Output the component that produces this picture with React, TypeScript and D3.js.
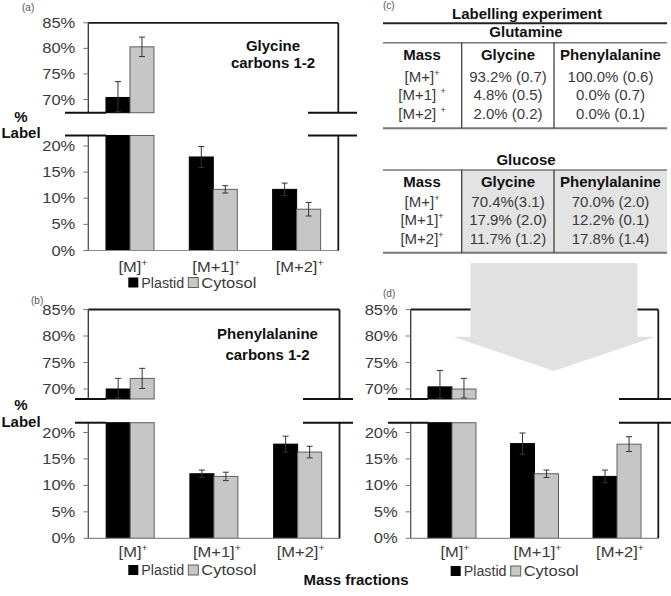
import React from 'react';
import * as d3 from 'd3';

// ---------- data ----------
const categories = ['[M]', '[M+1]', '[M+2]'];
const seriesNames = ['Plastid', 'Cytosol'];

const glyPlastid = [70.4, 17.9, 11.7];
const glyPlastidErr = [3.1, 2.0, 1.2];
const glyCytosol = [80.3, 11.7, 7.9];
const glyCytosolErr = [1.9, 0.7, 1.3];

const phePlastid = [70.0, 12.2, 17.8];
const phePlastidErr = [2.0, 0.7, 1.5];
const pheCytosol = [72.0, 11.7, 16.3];
const pheCytosolErr = [1.9, 0.8, 1.1];

const cmpPlastid = [70.4, 17.9, 11.7];
const cmpPlastidErr = [3.1, 2.0, 1.2];
const cmpCytosol = [70.0, 12.2, 17.8];
const cmpCytosolErr = [2.0, 0.7, 1.4];

const upperTicks = [70, 75, 80, 85];
const lowerTicks = [0, 5, 10, 15, 20];

const tableCols = ['Mass', 'Glycine', 'Phenylalanine'];
const glutMass = ['[M+]', '[M+1] ', '[M+2] '];
const glutGly = ['93.2% (0.7)', '4.8% (0.5)', '2.0% (0.2)'];
const glutPhe = ['100.0% (0.6)', '0.0% (0.7)', '0.0% (0.1)'];
const glucMass = ['[M+]', '[M+1]', '[M+2]'];
const glucGly = ['70.4%(3.1)', '17.9% (2.0)', '11.7% (1.2)'];
const glucPhe = ['70.0% (2.0)', '12.2% (0.1)', '17.8% (1.4)'];

const FONT = "'Liberation Sans', Arial, Helvetica, sans-serif";
const TXT = '#3a3a3a';
const GRAY_FILL = '#c6c6c6';
const GRAY_STROKE = '#5e5e5e';
const SX = 1.18; // horizontal stretch of chart text
const FS = 14;

type PanelCfg = {
  tag: string; tagX: number; tagY: number;
  left: number; right: number; top: number; y70: number;
  upperBreak: number; lowerBreak: number; y20: number; base: number;
  breakLeftStart: number; breakRightStart: number; breakRightEnd: number;
  title?: string[]; titleX?: number; titleY?: number[];
  yLabel?: boolean; labelY?: number[];
  legendY: number; xLabelY: number;
  plastid: number[]; plastidErr: number[]; cytosol: number[]; cytosolErr: number[];
};

function SText({ x, y, anchor = 'start', sx = SX, children }: { x: number; y: number; anchor?: string; sx?: number; children: React.ReactNode }) {
  return (
    <text transform={`translate(${x},${y}) scale(${sx},1)`} textAnchor={anchor} fontSize={FS} fill={TXT} fontFamily={FONT}>
      {children}
    </text>
  );
}

function Panel({ c }: { c: PanelCfg }) {
  const yU = d3.scaleLinear().domain([70, 85]).range([c.y70, c.top]);
  const yL = d3.scaleLinear().domain([0, 20]).range([c.base, c.y20]);
  const upperMin = yU.invert(c.upperBreak);
  const lowerMax = yL.invert(c.lowerBreak);
  const x0 = d3.scaleBand().domain(categories).range([c.left, c.right]);
  const x1 = d3.scaleBand().domain(seriesNames).range([-24, 24]);
  const cx = (cat: string) => (x0(cat) as number) + x0.bandwidth() / 2;
  const yAny = (v: number) => (v >= upperMin ? yU(v) : yL(v));

  const series = [
    { name: 'Plastid', vals: c.plastid, errs: c.plastidErr, fill: '#000', stroke: '#000' },
    { name: 'Cytosol', vals: c.cytosol, errs: c.cytosolErr, fill: GRAY_FILL, stroke: GRAY_STROKE },
  ];
  const firstBarX = cx(categories[0]) + (x1('Plastid') as number);

  return (
    <g fontFamily={FONT}>
      <text x={c.tagX} y={c.tagY} fontSize={10} fill="#555">{c.tag}</text>
      {/* bars */}
      {series.map((s) =>
        categories.map((cat, i) => {
          const v = s.vals[i];
          const bx = cx(cat) + (x1(s.name) as number);
          const bw = x1.bandwidth();
          const lowTop = v > lowerMax ? c.lowerBreak : yL(v);
          return (
            <g key={s.name + cat}>
              <rect x={bx} y={lowTop} width={bw} height={c.base - lowTop} fill={s.fill} stroke={s.stroke} strokeWidth={1} />
              {v > upperMin && (
                <rect x={bx} y={yU(v)} width={bw} height={c.upperBreak - yU(v)} fill={s.fill} stroke={s.stroke} strokeWidth={1} />
              )}
            </g>
          );
        })
      )}
      {/* error bars */}
      {series.map((s) =>
        categories.map((cat, i) => {
          const v = s.vals[i];
          const e = s.errs[i];
          const ex = cx(cat) + (x1(s.name) as number) + x1.bandwidth() / 2;
          const yHi = yAny(v + e);
          const yLo = v >= upperMin ? Math.min(yU(v - e), c.upperBreak - 1) : yL(v - e);
          return (
            <g key={'e' + s.name + cat} stroke="#333" strokeWidth={1}>
              <line x1={ex} x2={ex} y1={yHi} y2={yLo} />
              <line x1={ex - 3} x2={ex + 3} y1={yHi} y2={yHi} />
              <line x1={ex - 3} x2={ex + 3} y1={yLo} y2={yLo} />
            </g>
          );
        })
      )}
      {/* axes and frame */}
      <line x1={c.left} x2={c.right} y1={c.base} y2={c.base} stroke="#8a8a8a" strokeWidth={1.2} />
      <line x1={c.left} x2={c.left} y1={c.top} y2={c.upperBreak} stroke="#333" strokeWidth={1.3} />
      <line x1={c.left} x2={c.left} y1={c.lowerBreak} y2={c.base} stroke="#555" strokeWidth={1.3} />
      <line x1={c.left} x2={c.right} y1={c.top} y2={c.top} stroke="#1a1a1a" strokeWidth={1.8} />
      <line x1={c.right} x2={c.right} y1={c.top} y2={c.upperBreak} stroke="#1a1a1a" strokeWidth={1.8} />
      <line x1={c.right} x2={c.right} y1={c.lowerBreak} y2={c.base} stroke="#1a1a1a" strokeWidth={1.8} />
      {/* break lines */}
      {[c.upperBreak, c.lowerBreak].map((y, k) => (
        <g key={'b' + k} stroke="#111" strokeWidth={2}>
          <line x1={c.breakLeftStart} x2={firstBarX} y1={y} y2={y} />
          <line x1={c.breakRightStart} x2={c.breakRightEnd} y1={y} y2={y} />
        </g>
      ))}
      {/* ticks */}
      {upperTicks.map((t) => (
        <g key={'u' + t}>
          <line x1={c.left - 5} x2={c.left} y1={yU(t)} y2={yU(t)} stroke="#777" strokeWidth={1} />
          <SText x={c.left - 13} y={yU(t) + 5} anchor="end">{t}%</SText>
        </g>
      ))}
      {lowerTicks.map((t) => (
        <g key={'l' + t}>
          <line x1={c.left - 5} x2={c.left} y1={yL(t)} y2={yL(t)} stroke="#777" strokeWidth={1} />
          <SText x={c.left - 13} y={yL(t) + 5} anchor="end">{t}%</SText>
        </g>
      ))}
      {/* x labels */}
      {categories.map((cat) => (
        <SText key={'x' + cat} x={cx(cat) + 3} y={c.xLabelY} anchor="middle">
          {cat}
          <tspan dy={-6} fontSize={9}>+</tspan>
        </SText>
      ))}
      {/* legend */}
      <g>
        <rect x={c.left + 40} y={c.legendY - 5} width={10} height={10} fill="#000" />
        <SText x={c.left + 53} y={c.legendY + 5} sx={1.02}>Plastid</SText>
        <rect x={c.left + 100} y={c.legendY - 5} width={10} height={10} fill={GRAY_FILL} stroke={GRAY_STROKE} strokeWidth={1} />
        <SText x={c.left + 113} y={c.legendY + 5}>Cytosol</SText>
      </g>
      {/* title */}
      {c.title && c.title.map((t, k) => (
        <text key={'t' + k} x={c.titleX} y={(c.titleY as number[])[k]} textAnchor="middle" fontSize={15} fontWeight="bold" fill="#111">{t}</text>
      ))}
      {c.yLabel && c.labelY && (
        <g fontWeight="bold" fontSize={15} fill="#111" textAnchor="middle">
          <text x={21} y={c.labelY[0]}>%</text>
          <text x={21} y={c.labelY[1]}>Label</text>
        </g>
      )}
    </g>
  );
}

function MassCell({ x, y, label }: { x: number; y: number; label: string }) {
  return (
    <text x={x} y={y} textAnchor="middle" fontSize={15} fill={TXT} fontFamily={FONT}>
      {label}
      <tspan dy={-6} fontSize={9}>+</tspan>
    </text>
  );
}

function DataTable({ title, topLine, headY, rowYs, bottom, mass, gly, phe, shaded }: {
  title: string; topLine: number; headY: number; rowYs: number[]; bottom: number;
  mass: string[]; gly: string[]; phe: string[]; shaded: boolean;
}) {
  const xs = d3.scaleOrdinal<string, number>().domain(tableCols).range([422, 508, 610.5]);
  const L = 383, R = 667, v1 = 461.7, v2 = 554;
  return (
    <g fontFamily={FONT}>
      {shaded && <rect x={v1} y={topLine} width={R - v1} height={bottom - topLine} fill="#e3e3e3" />}
      <text x={526} y={topLine - 5.5} textAnchor="middle" fontSize={15} fontWeight="bold" fill="#111">{title}</text>
      <line x1={L} x2={R} y1={topLine} y2={topLine} stroke="#777" strokeWidth={1.5} />
      <line x1={L} x2={R} y1={bottom} y2={bottom} stroke="#777" strokeWidth={2} />
      <line x1={v1} x2={v1} y1={topLine} y2={bottom} stroke="#333" strokeWidth={1.2} />
      <line x1={v2} x2={v2} y1={topLine} y2={bottom} stroke="#333" strokeWidth={1.2} />
      {tableCols.map((col) => (
        <text key={col} x={xs(col)} y={headY} textAnchor="middle" fontSize={15} fontWeight="bold" fill="#111">{col}</text>
      ))}
      {rowYs.map((y, i) => (
        <g key={'r' + i}>
          <MassCell x={xs('Mass')} y={y} label={mass[i]} />
          <text x={xs('Glycine')} y={y} textAnchor="middle" fontSize={15} fill={TXT}>{gly[i]}</text>
          <text x={xs('Phenylalanine')} y={y} textAnchor="middle" fontSize={15} fill={TXT}>{phe[i]}</text>
        </g>
      ))}
    </g>
  );
}

const panelA: PanelCfg = {
  tag: '(a)', tagX: 22, tagY: 11,
  left: 88.3, right: 338.3, top: 22.8, y70: 99.5, upperBreak: 112.7, lowerBreak: 135.5, y20: 146, base: 250.5,
  breakLeftStart: 65, breakRightStart: 308, breakRightEnd: 357,
  title: ['Glycine', 'carbons 1-2'], titleX: 273, titleY: [50.5, 67.5],
  yLabel: true, labelY: [122, 137.5], legendY: 282.5, xLabelY: 271.5,
  plastid: glyPlastid, plastidErr: glyPlastidErr, cytosol: glyCytosol, cytosolErr: glyCytosolErr,
};
const panelB: PanelCfg = {
  tag: '(b)', tagX: 31, tagY: 304,
  left: 88.3, right: 339.5, top: 309.5, y70: 389, upperBreak: 399, lowerBreak: 422.7, y20: 432.5, base: 538.3,
  breakLeftStart: 75, breakRightStart: 303, breakRightEnd: 353,
  title: ['Phenylalanine', 'carbons 1-2'], titleX: 267.5, titleY: [339, 360],
  yLabel: true, labelY: [410, 426.7], legendY: 570, xLabelY: 557,
  plastid: phePlastid, plastidErr: phePlastidErr, cytosol: pheCytosol, cytosolErr: pheCytosolErr,
};
const panelD: PanelCfg = {
  tag: '(d)', tagX: 383, tagY: 297,
  left: 410.7, right: 658.3, top: 309.5, y70: 389, upperBreak: 399, lowerBreak: 422.7, y20: 432.5, base: 538.3,
  breakLeftStart: 388, breakRightStart: 619, breakRightEnd: 671,
  legendY: 571, xLabelY: 557,
  plastid: cmpPlastid, plastidErr: cmpPlastidErr, cytosol: cmpCytosol, cytosolErr: cmpCytosolErr,
};

export default function App() {
  const arrow = d3.line()([
    [470.5, 263], [637.5, 263], [637.5, 336.7], [655, 336.7], [554, 371],
    [453, 336.7], [470.5, 336.7],
  ]) + 'Z';
  return (
    <svg width={671} height={596} style={{ position: 'absolute', left: 0, top: 0, background: '#fff' }}>
      <rect width={671} height={596} fill="#fff" />
      <Panel c={panelA} />
      <Panel c={panelB} />
      <Panel c={panelD} />
      <path d={arrow} fill="#e1e1e1" />
      {/* table (c) */}
      <text x={383} y={9} fontSize={10} fill="#555" fontFamily={FONT}>(c)</text>
      <text x={527} y={18.5} textAnchor="middle" fontSize={15} fontWeight="bold" fill="#111" fontFamily={FONT}>Labelling experiment</text>
      <line x1={383} x2={667} y1={23.3} y2={23.3} stroke="#222" strokeWidth={2} />
      <DataTable title="Glutamine" topLine={42.7} headY={60.3} rowYs={[81.5, 100, 118.5]} bottom={128.3}
        mass={glutMass} gly={glutGly} phe={glutPhe} shaded={false} />
      <DataTable title="Glucose" topLine={170} headY={187} rowYs={[207, 225.3, 243.6]} bottom={252.7}
        mass={glucMass} gly={glucGly} phe={glucPhe} shaded={true} />
      <text x={356} y={585} textAnchor="middle" fontSize={15} fontWeight="bold" fill="#111" fontFamily={FONT}>Mass fractions</text>
    </svg>
  );
}
